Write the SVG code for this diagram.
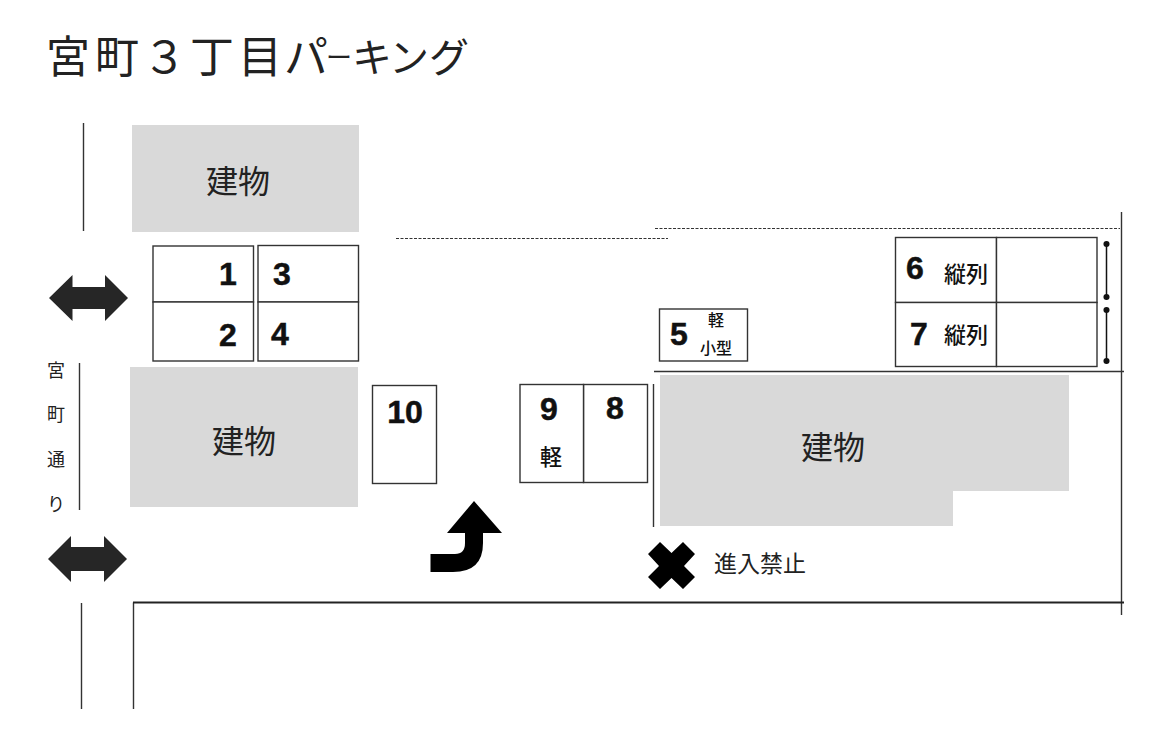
<svg xmlns="http://www.w3.org/2000/svg" width="1173" height="750" viewBox="0 0 1173 750">
<style>
text{font-family:"Noto Sans CJK JP","Noto Sans",sans-serif;fill:#222}
.num{font-family:"Liberation Sans",Arial,sans-serif;font-weight:700;font-size:32px;fill:#111;stroke:#111;stroke-width:.5;text-anchor:middle}
.bld{fill:#d9d9d9}
.lot{fill:#fff;stroke:#333;stroke-width:1.4}
.ln{fill:none;stroke:#333;stroke-width:1.4}
.big{font-size:32px;text-anchor:middle}
.sm{font-weight:500;text-anchor:middle;fill:#111}
.s15{font-size:16px}
.s21{font-size:22px}
.v{font-size:18px;text-anchor:middle}
.dash{fill:none;stroke:#333;stroke-width:1.200;stroke-dasharray:3 1.500}
</style>
<rect width="1173" height="750" fill="#fff"/>
<text id="title" y="73" font-size="44" fill="#111"><tspan x="46">宮</tspan><tspan x="95">町</tspan><tspan x="142.500">３</tspan><tspan x="190">丁</tspan><tspan x="238">目</tspan><tspan x="284">パ</tspan><tspan x="326" y="67" font-size="26">ー</tspan><tspan x="352" y="72" font-size="40">キ</tspan><tspan x="389" y="72" font-size="40">ン</tspan><tspan x="429" y="72" font-size="40">グ</tspan></text>
<g id="buildings">
<g id="building-a"><rect class="bld" x="132" y="125" width="227" height="107"/><text class="big" x="238" y="193">建物</text></g>
<g id="building-b"><rect class="bld" x="130" y="367" width="228" height="140"/><text class="big" x="244" y="453">建物</text></g>
<g id="building-c"><polygon class="bld" points="660,375 1069,375 1069,491 953,491 953,526 660,526"/><text class="big" x="833" y="459">建物</text></g>
</g>
<g id="connectors">
<path class="ln" d="M83.500 123V231M79.500 363V510M81.500 603V709M133.500 709V602.500M1121.500 212V615M654 371.500H1124M653.500 384V527"/>
<path d="M133 602.500H1124" fill="none" stroke="#222" stroke-width="2"/>
<path class="dash" d="M396 238.500H668M655 228.500H1120"/>
<g stroke="#111" stroke-width="1.500" fill="#111"><path d="M1106.500 244V297M1106.500 310V361"/><circle cx="1106.500" cy="244" r="2.300"/><circle cx="1106.500" cy="297" r="2.300"/><circle cx="1106.500" cy="310" r="2.300"/><circle cx="1106.500" cy="361" r="2.300"/></g>
</g>
<g id="lot-1"><rect class="lot" x="153" y="246" width="100.500" height="56"/><text class="num" x="228" y="285">1</text></g>
<g id="lot-2"><rect class="lot" x="153" y="302" width="100.500" height="59"/><text class="num" x="228" y="346">2</text></g>
<g id="lot-3"><rect class="lot" x="258" y="245.500" width="100.500" height="56.500"/><text class="num" x="282" y="285">3</text></g>
<g id="lot-4"><rect class="lot" x="258" y="302" width="100.500" height="59"/><text class="num" x="280" y="345">4</text></g>
<g id="lot-5"><rect class="lot" x="659.500" y="309" width="88" height="52"/><text class="num" x="679" y="345">5</text><text class="sm s15" x="716" y="326">軽</text><text class="sm s15" x="716" y="354">小型</text></g>
<g id="lot-6"><rect class="lot" x="895.500" y="237.500" width="101" height="65"/><rect class="lot" x="996.500" y="237.500" width="100.500" height="65"/><text class="num" x="915" y="279">6</text><text class="sm s21" x="966" y="282">縦列</text></g>
<g id="lot-7"><rect class="lot" x="895.500" y="302.500" width="101" height="64"/><rect class="lot" x="996.500" y="302.500" width="100.500" height="64"/><text class="num" x="919" y="345">7</text><text class="sm s21" x="966" y="343">縦列</text></g>
<g id="lot-8"><rect class="lot" x="583.500" y="384.500" width="64" height="98"/><text class="num" x="615" y="419">8</text></g>
<g id="lot-9"><rect class="lot" x="520" y="384.500" width="63.500" height="98"/><text class="num" x="549" y="420">9</text><text class="sm s21" x="551" y="465">軽</text></g>
<g id="lot-10"><rect class="lot" x="372.500" y="385.500" width="64" height="98"/><text class="num" x="405" y="423">10</text></g>
<g id="road-label"><text class="v" x="56" y="377">宮</text><text class="v" x="56" y="421">町</text><text class="v" x="56" y="466">通</text><text class="v" x="56" y="511">り</text></g>
<g id="arrow-top"><polygon fill="#262626" points="49,298 72.500,275 72.500,287 105,287 105,275 128,298 105,321 105,309 72.500,309 72.500,321"/></g>
<g id="arrow-bottom"><polygon fill="#262626" points="48,559 71,536 71,547 104,547 104,536 127,559 104,582 104,571 71,571 71,582"/></g>
<g id="turn-arrow"><path fill="#000" d="M430.500 572V554H455Q465 554 465 543V533H447L474 501L502 533H483V543Q483 572 453 572Z"/></g>
<g id="no-entry"><polygon fill="#000" points="660,542 671.500,553 683,542 695,554 684,566 695,577 683,589 671.500,578 660,589 648,577 659,566 648,554"/><text x="714" y="572" font-size="23">進入禁止</text></g>
</svg>
